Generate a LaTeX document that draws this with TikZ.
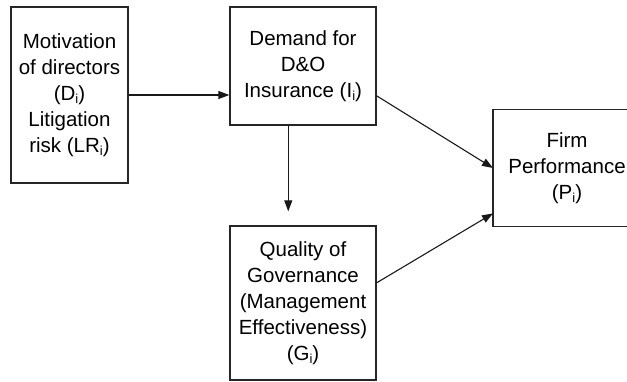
\documentclass[tikz,border=0pt]{standalone}
\usepackage{fontspec}
\setmainfont{Liberation Sans}
\usetikzlibrary{arrows.meta,calc}
\newcommand{\sbi}{\raisebox{-0.3ex}{\fontsize{13}{13}\selectfont i}}
\begin{document}
\begin{tikzpicture}[x=1pt,y=-1pt,
  box/.style={draw=black!85,line width=1.3pt,rectangle,inner sep=0pt,align=center,
    font=\fontsize{20.5}{26}\selectfont},
  edge/.style={draw=black!85,line width=1.3pt},
  txt/.style={inner sep=0pt,align=center,font=\fontsize{20.5}{26}\selectfont},
  conn/.style={draw=black!90,line width=1.1pt,-{Triangle[length=11pt,width=8pt]}}]
\useasboundingbox (0,0) rectangle (627,381);
\clip (0,0) rectangle (627,381);
\node[box,minimum width=117pt,minimum height=176pt] (L) at (69.5,95)
  {Motivation\\of directors\\(D\sbi)\\Litigation\\risk (LR\sbi)};
\node[box,minimum width=146pt,minimum height=118pt] (D) at (303,66)
  {Demand for\\D\&O\\Insurance (I\sbi)};
\node[box,minimum width=146pt,minimum height=154pt] (Q) at (303,303)
  {Quality of\\Governance\\(Management\\Effectiveness)\\(G\sbi)};
\node[inner sep=0pt,anchor=west,minimum width=200pt,minimum height=116pt] (F) at (493,168) {};
\draw[edge] (F.north east) -- (F.north west) -- (F.south west) -- (F.south east);
\node[txt] (Ft) at (567,168) {Firm\\Performance\\(P\sbi)};
\draw[conn] (L.east) -- (L.east -| D.west);
\coordinate (ds) at ($(D.south west)!0.4!(D.south east)$);
\draw[conn,shorten >=14pt] (ds) -- (ds |- Q.north);
\draw[conn] ($(D.south east)!0.25!(D.north east)$) -- (F.west);
\draw[conn] ($(Q.north east)!0.37!(Q.south east)$) -- ($(F.south west)!0.11!(F.north west)$);
\end{tikzpicture}
\end{document}
